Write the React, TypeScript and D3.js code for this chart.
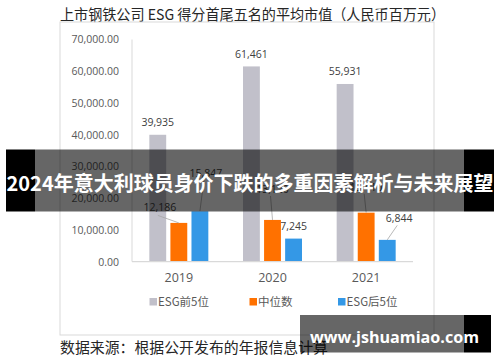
import React from "react";
import * as d3 from "d3";

// ── Data ─────────────────────────────────────────────────────────────────────
const years = ["2019", "2020", "2021"];
const seriesNames = ["ESG前5位", "中位数", "ESG后5位"];
const top5 = [39935, 61461, 55931];
const median = [12186, 13120, 15410];
const bottom5 = [15847, 7245, 6844];
const yTicks = [0, 10000, 20000, 30000, 40000, 50000, 60000, 70000];

const seriesValues = [top5, median, bottom5];
const COLORS = ["#c1c0ca", "#ff7100", "#3498e6"];

// label offsets per series/year: [dx, dy from bar top, leader?]
const LABEL_POS: [number, number, boolean][][] = [
  [[0, -8.5, false], [0, -8.5, false], [0, -8.5, false]],
  [[-19, -11.5, true], [0, -27, true], [0, -22, true]],
  [[6, -34, true], [0, -8.5, false], [12, -17.5, true]],
];

const FONT = "'Open Sans', 'Noto Sans CJK SC', sans-serif";
const CJK = "'Noto Sans CJK SC', sans-serif";

export default function App() {
  const x0 = d3.scaleBand<string>().domain(years).range([132, 413]);
  const x1 = d3
    .scaleBand<number>()
    .domain([0, 1, 2])
    .range([0, 59])
    .paddingInner(0.2);
  const y = d3.scaleLinear().domain([0, 70000]).range([261.6, 39.3]);
  const groupOff = (x0.bandwidth() - 59) / 2;
  const fmt = d3.format(",");
  const fmtTick = d3.format(",.2f");

  const legendX = [149.5, 249.5, 338];

  return (
    <svg
      width={500}
      height={362}
      style={{ position: "absolute", left: 0, top: 0, background: "#fff" }}
    >
      <rect width={500} height={362} fill="#fff" />

      {/* Title */}
      <text
        x={60}
        y={19.5}
        fontSize={15}
        fontFamily={CJK}
        fill="#262626"
        textLength={385}
        lengthAdjust="spacingAndGlyphs"
      >
        上市钢铁公司 ESG 得分首尾五名的平均市值（人民币百万元）
      </text>

      {/* Frame */}
      <rect x={60} y={22} width={374} height={313} fill="none" stroke="#d9d9d9" />

      {/* Y axis labels */}
      {yTicks.map((t) => (
        <text
          key={t}
          x={119}
          y={y(t) + 4}
          textAnchor="end"
          fontSize={10.5}
          fontFamily={FONT}
          fill="#595959"
        >
          {fmtTick(t)}
        </text>
      ))}
      <line x1={132} x2={132} y1={39.5} y2={261.6} stroke="#d9d9d9" />

      {/* Bars */}
      {years.map((yr, i) =>
        seriesValues.map((vals, s) => {
          const bx = (x0(yr) ?? 0) + groupOff + (x1(s) ?? 0);
          const bw = x1.bandwidth();
          const top = y(vals[i]);
          return (
            <rect
              key={yr + s}
              x={bx}
              y={top}
              width={bw}
              height={y(0) - top}
              fill={COLORS[s]}
            />
          );
        })
      )}
      <line x1={132} x2={413} y1={261.6} y2={261.6} stroke="#d9d9d9" strokeWidth={1.2} />

      {/* Data labels */}
      {years.map((yr, i) =>
        seriesValues.map((vals, s) => {
          const bw = x1.bandwidth();
          const cx = (x0(yr) ?? 0) + groupOff + (x1(s) ?? 0) + bw / 2;
          const top = y(vals[i]);
          const [dx, dy, leader] = LABEL_POS[s][i];
          const lx = cx + dx;
          const ly = top + dy;
          return (
            <g key={"l" + yr + s}>
              {leader && (
                <line
                  x1={dx < -5 ? lx - 2 : lx - 2}
                  y1={dx < -5 ? ly + 4 : ly + 3}
                  x2={cx}
                  y2={top}
                  stroke="#a6a6a6"
                  strokeWidth={0.8}
                />
              )}
              <text
                x={lx}
                y={ly}
                textAnchor="middle"
                fontSize={10.5}
                fontFamily={FONT}
                fill="#404040"
              >
                {fmt(vals[i])}
              </text>
            </g>
          );
        })
      )}

      {/* X labels */}
      {years.map((yr) => (
        <text
          key={yr}
          x={(x0(yr) ?? 0) + x0.bandwidth() / 2}
          y={282}
          textAnchor="middle"
          fontSize={12.5}
          fontFamily={FONT}
          fill="#595959"
        >
          {yr}
        </text>
      ))}

      {/* Legend */}
      {seriesNames.map((n, s) => (
        <g key={n}>
          <rect x={legendX[s]} y={298} width={7.5} height={7.5} fill={COLORS[s]} />
          <text
            x={legendX[s] + 8.5}
            y={306}
            fontSize={11.5}
            fontFamily={CJK}
            fill="#595959"
          >
            {n}
          </text>
        </g>
      ))}

      {/* Source */}
      <text x={60} y={353} fontSize={15} fontFamily={CJK} fill="#262626" textLength={268} lengthAdjust="spacingAndGlyphs">
        数据来源：根据公开发布的年报信息计算
      </text>

      {/* Banner overlay */}
      <rect x={6} y={149.5} width={29} height={62} fill="#000" />
      <rect x={464} y={149.5} width={30} height={62} fill="#000" />
      <rect x={35} y={149.5} width={429} height={62} fill="rgba(0,0,0,0.6)" />
      <text
        x={6.5}
        y={191}
        fontSize={20.5}
        fontWeight="bold"
        fontFamily={CJK}
        fill="#fff"
        textLength={487}
        lengthAdjust="spacingAndGlyphs"
      >
        2024年意大利球员身价下跌的多重因素解析与未来展望
      </text>

      {/* Watermark */}
      <rect x={300} y={315} width={164} height={37.5} fill="rgba(0,0,0,0.6)" />
      <rect x={464} y={315} width={27} height={37.5} fill="#000" />
      <text
        x={310}
        y={343}
        fontSize={16}
        fontWeight="bold"
        fontFamily="'Open Sans', sans-serif"
        fill="#fff"
        textLength={169}
        lengthAdjust="spacingAndGlyphs"
      >
        www.jshuamiao.com
      </text>
    </svg>
  );
}
